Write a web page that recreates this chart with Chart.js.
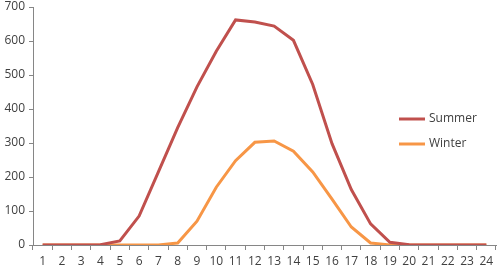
<!DOCTYPE html>
<html>
<head>
<meta charset="utf-8">
<script src="https://cdn.jsdelivr.net/npm/chart.js@4"></script>
<style>
html,body{margin:0;padding:0;background:#fff;}
#wrap{width:497px;height:271px;}
</style>
</head>
<body>
<div id="wrap"><canvas id="c" width="497" height="271"></canvas></div>
<script>
const hours = ["1","2","3","4","5","6","7","8","9","10","11","12","13","14","15","16","17","18","19","20","21","22","23","24"];
const summer = [0,0,0,1,12,85,215,345,465,570,662,656,644,602,472,298,163,62,8,1,0,0,0,0];
const winter = [0,0,0,0,0,0,0,6,70,170,248,302,306,276,215,135,53,6,0,0,0,0,0,0];

const sideLegend = {
id:"sideLegend",
afterDraw(chart){
const ctx = chart.ctx;
ctx.save();
ctx.font = "12px 'Open Sans', sans-serif";
ctx.textBaseline = "middle";
chart.data.datasets.forEach((ds,i)=>{
const y = 119 + i*25;
ctx.strokeStyle = ds.borderColor;
ctx.lineWidth = 3;
ctx.beginPath();
ctx.moveTo(399,y);
ctx.lineTo(425,y);
ctx.stroke();
ctx.fillStyle = "#404040";
ctx.fillText(ds.label,429,y);
});
ctx.restore();
}
};

new Chart(document.getElementById("c"),{
type:"line",
data:{
labels:hours,
datasets:[
{label:"Summer",data:summer,borderColor:"#C0504D",borderWidth:3,pointRadius:0,tension:0,fill:false},
{label:"Winter",data:winter,borderColor:"#F79646",borderWidth:3,pointRadius:0,tension:0,fill:false}
]
},
options:{
responsive:false,
animation:false,
layout:{padding:{top:0,right:1,bottom:0,left:0}},
plugins:{legend:{display:false},tooltip:{enabled:false}},
scales:{
x:{
offset:true,
afterFit(s){ s.height = 26; s.paddingLeft = 0; s.paddingRight = 0; },
grid:{offset:true,drawOnChartArea:false,tickLength:5,color:"#868686"},
border:{color:"#868686"},
ticks:{color:"#404040",font:{family:"'Open Sans', sans-serif",size:12},maxRotation:0,autoSkip:false,padding:4}
},
y:{
min:0,max:700,
afterFit(s){ s.width = 33; s.paddingTop = 7; s.paddingBottom = 0; },
grid:{drawOnChartArea:false,tickLength:4,color:"#868686"},
border:{color:"#868686"},
ticks:{stepSize:100,color:"#404040",font:{family:"'Open Sans', sans-serif",size:12},padding:4}
}
}
},
plugins:[sideLegend]
});
</script>
</body>
</html>
